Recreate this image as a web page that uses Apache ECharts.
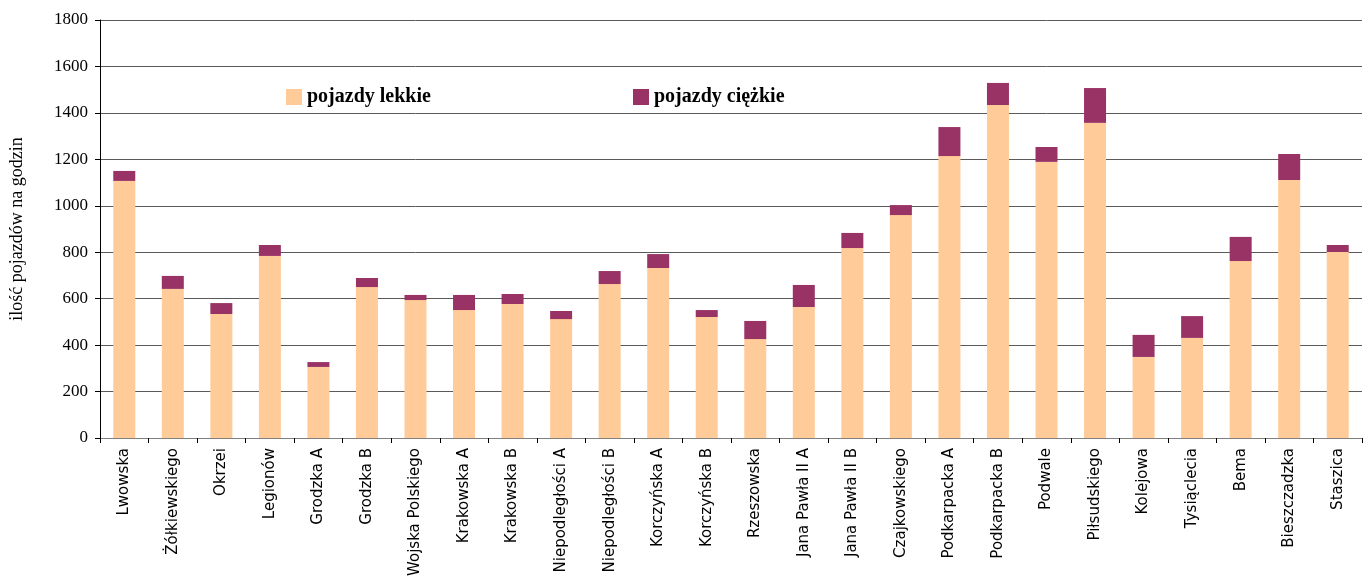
<!DOCTYPE html>
<html>
<head>
<meta charset="utf-8">
<script src="https://cdn.jsdelivr.net/npm/echarts@6/dist/echarts.min.js"></script>
<style>
  html, body { margin: 0; padding: 0; background: #fff; }
  #chart { width: 1364px; height: 581px; }
</style>
</head>
<body>
<div id="chart"></div>
<script>
  // ulice / punkty pomiarowe
  const streets = [
    'Lwowska', 'Żółkiewskiego', 'Okrzei', 'Legionów', 'Grodzka A', 'Grodzka B',
    'Wojska Polskiego', 'Krakowska A', 'Krakowska B', 'Niepodległości A',
    'Niepodległości B', 'Korczyńska A', 'Korczyńska B', 'Rzeszowska',
    'Jana Pawła II A', 'Jana Pawła II B', 'Czajkowskiego', 'Podkarpacka A',
    'Podkarpacka B', 'Podwale', 'Piłsudskiego', 'Kolejowa', 'Tysiąclecia',
    'Bema', 'Bieszczadzka', 'Staszica'
  ]
  const lightVehicles = [
    1107, 642, 534, 784, 306, 650, 594, 551, 577, 512, 663, 732, 521,
    426, 564, 818, 960, 1214, 1434, 1189, 1357, 349, 431, 762, 1111, 801
  ]
  const heavyVehicles = [
    43, 56, 47, 47, 21, 39, 22, 65, 43, 35, 56, 60, 30,
    78, 95, 65, 43, 125, 95, 64, 150, 95, 94, 104, 112, 30
  ]
  const yTicks = {min: 0, max: 1800, step: 200}

  const serif = '"Liberation Serif", "DejaVu Serif", serif'
  const sans = '"DejaVu Sans", "Liberation Sans", sans-serif'
  const legendText = {fontFamily: serif, fontSize: 20, fontWeight: 'bold', color: '#000'}

  let myChart = echarts.init(document.getElementById('chart'))
  myChart.setOption({
    animation: false,
    backgroundColor: '#fff',
    grid: {
      left: 100,
      right: 2,
      top: 20,
      bottom: 143
    },
    legend: [
      {
        data: ['pojazdy lekkie'],
        left: 281,
        top: 82,
        icon: 'rect',
        itemWidth: 16,
        itemHeight: 16,
        itemGap: 6,
        textStyle: legendText
      },
      {
        data: ['pojazdy ciężkie'],
        left: 628,
        top: 82,
        icon: 'rect',
        itemWidth: 16,
        itemHeight: 16,
        itemGap: 6,
        textStyle: legendText
      }
    ],
    xAxis: {
      type: 'category',
      data: streets,
      axisLine: {lineStyle: {color: '#808080', width: 1}},
      axisTick: {show: true, alignWithLabel: false, length: 5, lineStyle: {color: '#000'}},
      axisLabel: {
        rotate: 90,
        interval: 0,
        margin: 10,
        color: '#000',
        fontFamily: sans,
        fontSize: 15
      }
    },
    yAxis: {
      type: 'value',
      min: yTicks.min,
      max: yTicks.max,
      interval: yTicks.step,
      name: 'ilość pojazdów na godzin',
      nameLocation: 'middle',
      nameRotate: 90,
      nameGap: 74,
      nameTextStyle: {fontFamily: serif, fontSize: 18, color: '#000'},
      axisLine: {show: true, lineStyle: {color: '#000'}},
      axisTick: {show: true, length: 5, lineStyle: {color: '#000'}},
      axisLabel: {
        margin: 12,
        color: '#000',
        fontFamily: serif,
        fontSize: 17,
        formatter: (v) => String(v)
      },
      splitLine: {show: true, lineStyle: {color: '#5a5a5a', width: 1}}
    },
    series: [
      {
        name: 'pojazdy lekkie',
        type: 'bar',
        stack: 'total',
        data: lightVehicles,
        barWidth: 22,
        itemStyle: {color: '#FFCC99'}
      },
      {
        name: 'pojazdy ciężkie',
        type: 'bar',
        stack: 'total',
        data: heavyVehicles,
        barWidth: 22,
        itemStyle: {color: '#993366'}
      }
    ]
  })
</script>
</body>
</html>
